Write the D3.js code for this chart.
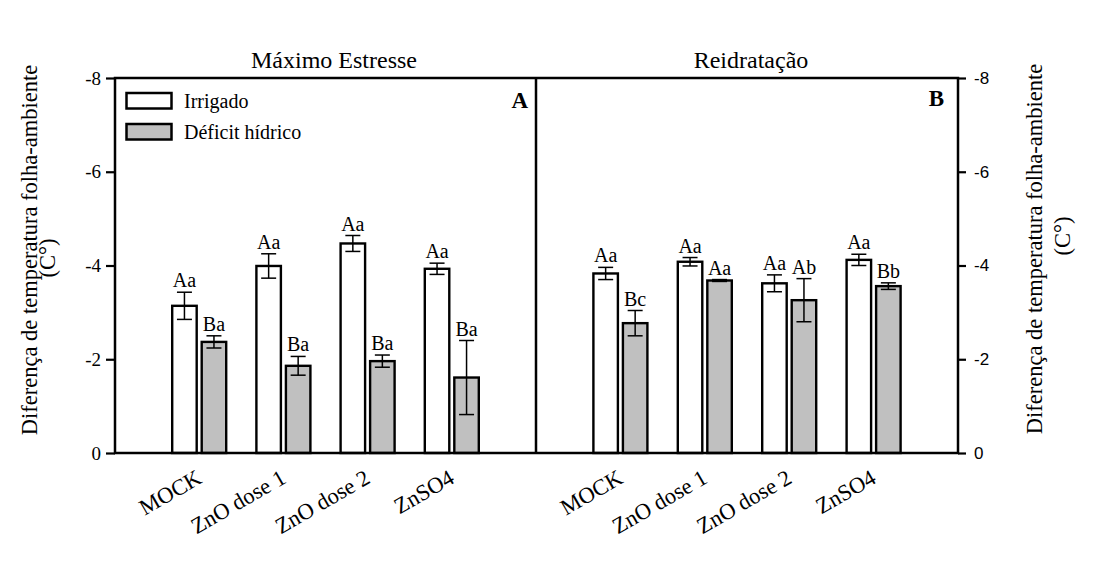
<!DOCTYPE html>
<html>
<head>
<meta charset="utf-8">
<script src="https://cdn.jsdelivr.net/npm/d3@7"></script>
<style>
  body { margin: 0; background: #fff; }
  text { font-family: "Liberation Serif", "Times New Roman", serif; fill: #000; }
</style>
</head>
<body>
<svg id="chart" width="1108" height="567"></svg>
<script>
// data
var categories = ["MOCK", "ZnO dose 1", "ZnO dose 2", "ZnSO4"];
var seriesNames = ["Irrigado", "Déficit hídrico"];
var panelTitles = ["Máximo Estresse", "Reidratação"];
var panelLetters = ["A", "B"];
var yTicks = [0, -2, -4, -6, -8];

// Máximo Estresse
var stressIrrigado = [-3.14, -3.99, -4.47, -3.93];
var stressIrrigadoErr = [0.29, 0.26, 0.17, 0.12];
var stressDeficit = [-2.37, -1.86, -1.96, -1.61];
var stressDeficitErr = [0.13, 0.20, 0.13, 0.79];
var stressIrrigadoLbl = ["Aa", "Aa", "Aa", "Aa"];
var stressDeficitLbl = ["Ba", "Ba", "Ba", "Ba"];

// Reidratação
var rehydIrrigado = [-3.83, -4.08, -3.62, -4.12];
var rehydIrrigadoErr = [0.13, 0.09, 0.18, 0.12];
var rehydDeficit = [-2.77, -3.68, -3.26, -3.56];
var rehydDeficitErr = [0.27, 0.02, 0.46, 0.07];
var rehydIrrigadoLbl = ["Aa", "Aa", "Aa", "Aa"];
var rehydDeficitLbl = ["Bc", "Aa", "Ab", "Bb"];

(function () {
    var svg = d3.select("#chart");

    var pLeft = 115, pMid = 536, pRight = 958, pTop = 78, pBottom = 453;
    var fills = ["#ffffff", "#c0c0c0"];

    var y = d3.scaleLinear().domain([0, -8]).range([pBottom, pTop]);

    var x1 = d3.scaleBand().domain(seriesNames).range([-27, 27]).paddingInner(0.17);

    function buildRows(irr, irrErr, irrLbl, def, defErr, defLbl) {
        var rows = [];
        categories.forEach(function (c, i) {
            rows.push({cat: c, s: seriesNames[0], v: irr[i], e: irrErr[i], lbl: irrLbl[i]});
            rows.push({cat: c, s: seriesNames[1], v: def[i], e: defErr[i], lbl: defLbl[i]});
        });
        return rows;
    }

    var panels = [
        {x0: pLeft, x1: pMid, title: panelTitles[0], titleX: 334, letter: panelLetters[0], letterX: 528, letterY: 108,
            rows: buildRows(stressIrrigado, stressIrrigadoErr, stressIrrigadoLbl, stressDeficit, stressDeficitErr, stressDeficitLbl)},
        {x0: pMid, x1: pRight, title: panelTitles[1], titleX: 751, letter: panelLetters[1], letterX: 944, letterY: 106,
            rows: buildRows(rehydIrrigado, rehydIrrigadoErr, rehydIrrigadoLbl, rehydDeficit, rehydDeficitErr, rehydDeficitLbl)}
    ];

    panels.forEach(function (p) {
        var x = d3.scalePoint().domain(categories).range([p.x0, p.x1]).padding(1);
        var g = svg.append("g");

        var bars = g.selectAll("g.bar").data(p.rows).enter().append("g").attr("class", "bar");

        bars.append("rect")
            .attr("x", function (d) { return x(d.cat) + x1(d.s); })
            .attr("y", function (d) { return y(d.v); })
            .attr("width", x1.bandwidth())
            .attr("height", function (d) { return y(0) - y(d.v); })
            .style("fill", function (d) { return fills[seriesNames.indexOf(d.s)]; })
            .style("stroke", "#000")
            .style("stroke-width", 2.4);

        // error bars
        var cx = function (d) { return x(d.cat) + x1(d.s) + x1.bandwidth() / 2; };
        bars.append("line")
            .attr("x1", cx).attr("x2", cx)
            .attr("y1", function (d) { return y(d.v - d.e); })
            .attr("y2", function (d) { return y(d.v + d.e); })
            .style("stroke", "#000").style("stroke-width", 1.5);
        bars.append("line")
            .attr("x1", function (d) { return cx(d) - 7.5; })
            .attr("x2", function (d) { return cx(d) + 7.5; })
            .attr("y1", function (d) { return y(d.v - d.e); })
            .attr("y2", function (d) { return y(d.v - d.e); })
            .style("stroke", "#000").style("stroke-width", 1.5);
        bars.append("line")
            .attr("x1", function (d) { return cx(d) - 7.5; })
            .attr("x2", function (d) { return cx(d) + 7.5; })
            .attr("y1", function (d) { return y(d.v + d.e); })
            .attr("y2", function (d) { return y(d.v + d.e); })
            .style("stroke", "#000").style("stroke-width", 1.5);

        // significance letters
        bars.append("text")
            .attr("x", cx)
            .attr("y", function (d) { return y(d.v - d.e) - 5; })
            .attr("text-anchor", "middle")
            .style("font-size", "20px")
            .text(function (d) { return d.lbl; });

        // category labels
        g.selectAll("text.cat").data(categories).enter().append("text")
            .attr("class", "cat")
            .attr("transform", function (d) { return "translate(" + (x(d) + 4) + ",482) rotate(-30)"; })
            .attr("text-anchor", "end")
            .style("font-size", "22.5px")
            .text(function (d) { return d; });

        svg.append("text")
            .attr("x", p.titleX).attr("y", 68)
            .attr("text-anchor", "middle")
            .style("font-size", "24px")
            .text(p.title);

        svg.append("text")
            .attr("x", p.letterX).attr("y", p.letterY)
            .attr("text-anchor", "end")
            .style("font-size", "23px")
            .style("font-weight", "bold")
            .text(p.letter);
    });

    // axes
    var yLeft = d3.axisLeft(y).tickValues(yTicks).tickSize(9).tickPadding(5).tickFormat(function (d) { return String(d); });
    var gl = svg.append("g").attr("transform", "translate(" + pLeft + ",0)").call(yLeft);
    gl.select(".domain").remove();
    gl.attr("font-size", null).attr("font-family", null);
    gl.selectAll(".tick line").style("stroke-width", 2.2);
    gl.selectAll(".tick text").style("font-family", "Liberation Serif").style("font-size", "19px");

    var yRight = d3.axisRight(y).tickValues(yTicks).tickSize(8).tickPadding(8).tickFormat(function (d) { return String(d); });
    var gr = svg.append("g").attr("transform", "translate(" + pRight + ",0)").call(yRight);
    gr.select(".domain").remove();
    gr.attr("font-size", null).attr("font-family", null);
    gr.selectAll(".tick line").style("stroke-width", 2.2);
    gr.selectAll(".tick text").style("font-family", "Liberation Sans").style("font-size", "17px");

    // frame and divider
    svg.append("rect")
        .attr("x", pLeft).attr("y", pTop)
        .attr("width", pRight - pLeft).attr("height", pBottom - pTop)
        .style("fill", "none").style("stroke", "#000").style("stroke-width", 2.5);
    svg.append("line")
        .attr("x1", pMid).attr("x2", pMid).attr("y1", pTop).attr("y2", pBottom)
        .style("stroke", "#000").style("stroke-width", 2.5);

    // legend
    var legend = svg.append("g").selectAll("g").data(seriesNames).enter().append("g")
        .attr("transform", function (d, i) { return "translate(126.5," + (93 + i * 31) + ")"; });
    legend.append("rect")
        .attr("width", 45).attr("height", 15.5)
        .style("fill", function (d, i) { return fills[i]; })
        .style("stroke", "#000").style("stroke-width", 2.5);
    legend.append("text")
        .attr("x", 57.5).attr("y", 14.5)
        .style("font-size", "20px")
        .text(function (d) { return d; });

    // y axis titles
    svg.append("text")
        .attr("transform", "translate(37,250) rotate(-90)")
        .attr("text-anchor", "middle").style("font-size", "22.5px")
        .text("Diferença de temperatura folha-ambiente");
    svg.append("text")
        .attr("transform", "translate(55,258) rotate(-90)")
        .attr("text-anchor", "middle").style("font-size", "22.5px")
        .text("(C°)");
    svg.append("text")
        .attr("transform", "translate(1042,249) rotate(-90)")
        .attr("text-anchor", "middle").style("font-size", "22.5px")
        .text("Diferença de temperatura folha-ambiente");
    svg.append("text")
        .attr("transform", "translate(1070,236) rotate(-90)")
        .attr("text-anchor", "middle").style("font-size", "22.5px")
        .text("(C°)");
})();
</script>
</body>
</html>
